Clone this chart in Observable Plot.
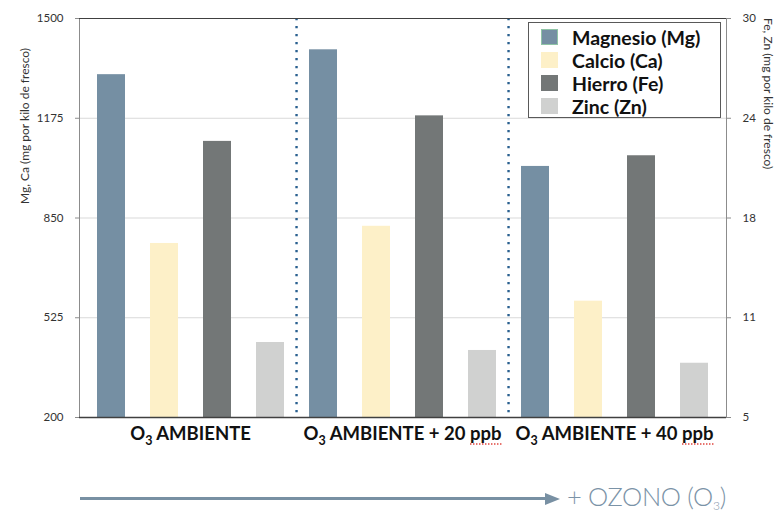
<!DOCTYPE html>
<html>
<head>
<meta charset="utf-8">
<script src="https://cdn.jsdelivr.net/npm/d3@7"></script>
<script src="https://cdn.jsdelivr.net/npm/@observablehq/plot@0.6"></script>
<style>
  body { margin: 0; background: #fff; font-family: Lato, "Open Sans", sans-serif; }
  #wrap { position: relative; width: 778px; height: 514px; overflow: hidden; }
  #chart svg { display: block; }
  .legend { position: absolute; left: 528px; top: 22px; width: 193px; height: 96px;
            border: 1px solid #595959; box-sizing: border-box; background: #fff; }
  .legend .row { position: absolute; left: 12px; height: 20px; display: flex; align-items: center;
                 font-weight: 700; font-size: 19.5px; color: #111; white-space: nowrap; }
  .legend .sw { width: 17px; height: 16px; margin-right: 14px; box-sizing: border-box; }
  .ytitle-right { position: absolute; left: 761px; top: 18px; writing-mode: vertical-rl;
                  font-size: 12px; color: #333; white-space: nowrap; line-height: 14px; }
  .foot { position: absolute; left: 0; top: 470px; width: 778px; height: 44px; }
  .foot .shaft { position: absolute; left: 80px; top: 27px; width: 468px; height: 3px; background: #7890a3; }
  .foot .head { position: absolute; left: 545px; top: 22.5px; width: 0; height: 0;
                border-left: 15px solid #7890a3; border-top: 6px solid transparent; border-bottom: 6px solid transparent; }
  .foot .txt { position: absolute; left: 567px; top: 11px; font-size: 25.5px; font-weight: 300;
               color: #7b93a7; white-space: nowrap; letter-spacing: -0.3px; }
  .foot .txt sub { font-size: 12px; vertical-align: -4px; }
</style>
</head>
<body>
<div id="wrap">
  <div id="chart"></div>
  <div class="ytitle-right">Fe, Zn (mg por kilo de fresco)</div>
  <div class="legend" id="legend"></div>
  <div class="foot">
    <div class="shaft"></div>
    <div class="head"></div>
    <div class="txt">+ OZONO (O<sub>3</sub>)</div>
  </div>
</div>
<script>
// Treatments (ozone exposure) and the four minerals measured
const groups = ["O₃ AMBIENTE", "O₃ AMBIENTE + 20 ppb", "O₃ AMBIENTE + 40 ppb"];
const elements = ["Magnesio (Mg)", "Calcio (Ca)", "Hierro (Fe)", "Zinc (Zn)"];
const colors = ["#758fa3", "#fdf0c8", "#737777", "#d0d1d0"];

// mg per kilo fresh weight — Mg and Ca on the left axis, Fe and Zn on the right axis
const magnesio = [1317, 1398, 1018];
const calcio = [767, 823, 579];
const hierro = [22.3, 23.9, 21.4];
const zinc = [9.7, 9.2, 8.4];

const leftTicks = [200, 525, 850, 1175, 1500];
const rightTicks = [5, 11.25, 17.5, 23.75, 30];

// Map right-axis values onto the shared (left) y scale
const [l0, l1] = [leftTicks[0], leftTicks[leftTicks.length - 1]];
const [r0, r1] = [rightTicks[0], rightTicks[rightTicks.length - 1]];
const toLeft = v => l0 + (v - r0) * (l1 - l0) / (r1 - r0);
const fromLeft = v => r0 + (v - l0) * (r1 - r0) / (l1 - l0);

const series = [magnesio, calcio, hierro.map(toLeft), zinc.map(toLeft)];
const rows = [];
groups.forEach((g, gi) => {
  elements.forEach((e, ei) => {
    rows.push({ key: g + "|" + e, group: g, element: e, value: series[ei][gi] });
  });
});
const keys = rows.map(d => d.key);
const keyOf = (g, e) => g + "|" + e;

const W = 778, H = 470;
const marginLeft = 79, marginRight = 52, marginTop = 18, marginBottom = 53;
const step = (W - marginLeft - marginRight) / keys.length;

const plot = Plot.plot({
  width: W,
  height: H,
  marginLeft, marginRight, marginTop, marginBottom,
  style: { fontFamily: "Lato, 'Open Sans', sans-serif", background: "#fff", color: "#404040" },
  x: { type: "band", domain: keys, paddingInner: 0.47, paddingOuter: 0.235, axis: null },
  y: { domain: [l0, l1], axis: null },
  color: { domain: elements, range: colors },
  marks: [
    Plot.ruleY(leftTicks.slice(1, -1), { stroke: "#d9d9d9", strokeWidth: 1.2 }),
    Plot.barY(rows, { x: "key", y1: l0, y2: "value", fill: "element" }),
    // dotted separators between treatments
    Plot.ruleX(groups.slice(1).map(g => keyOf(g, elements[0])), {
      dx: -step / 2, stroke: "#2a6090", strokeWidth: 2.4, strokeDasharray: "2.2 5.8", strokeLinecap: "butt"
    }),
    Plot.frame({ stroke: "#8c8c8c" }),
    Plot.ruleY([l1], { stroke: "#404040", strokeWidth: 1 }),
    Plot.ruleY([l0], { stroke: "#404040", strokeWidth: 1.5 }),
    Plot.axisY(leftTicks, {
      anchor: "left", tickSize: 4, tickPadding: 12, fontSize: 11.5, label: null, stroke: "#8c8c8c", fill: "#333",
      tickFormat: d => String(d)
    }),
    Plot.axisY(rightTicks.map(toLeft), {
      anchor: "right", tickSize: 4, tickPadding: 12, fontSize: 11.5, label: null, stroke: "#8c8c8c", fill: "#333",
      tickFormat: d => String(Math.round(fromLeft(d)))
    }),
    Plot.text(["Mg, Ca (mg por kilo de fresco)"], {
      text: d => d, frameAnchor: "left", rotate: -90, dx: -54, dy: -14, fontSize: 12, fill: "#333"
    }),
    // treatment labels under each group of four bars
    Plot.text(groups, {
      x: g => keyOf(g, elements[2]), text: d => d, dx: -step / 2,
      frameAnchor: "bottom", dy: 22, fontSize: 18.5, fontWeight: 700, fill: "#111",
      className: "treatment"
    })
  ]
});
document.getElementById("chart").appendChild(plot);

// Render the subscript in "O₃" as a lowered digit, and mark "ppb" with a dotted red underline
const svgNS = "http://www.w3.org/2000/svg";
plot.querySelectorAll("g.treatment text").forEach(t => {
  const label = t.textContent;
  const parts = label.split("₃");
  if (parts.length === 2) {
    t.textContent = "";
    const a = document.createElementNS(svgNS, "tspan");
    a.textContent = parts[0];
    const sub = document.createElementNS(svgNS, "tspan");
    sub.textContent = "3";
    sub.setAttribute("font-size", "12.5");
    sub.setAttribute("dy", "5");
    const b = document.createElementNS(svgNS, "tspan");
    b.textContent = parts[1];
    b.setAttribute("dy", "-5");
    t.append(a, sub, b);
  }
  const full = t.textContent;
  const i = full.indexOf("ppb");
  if (i >= 0) {
    const first = t.getExtentOfChar(i);
    const last = t.getExtentOfChar(i + 2);
    const y = first.y + first.height + 0.5;
    const line = document.createElementNS(svgNS, "line");
    line.setAttribute("x1", first.x);
    line.setAttribute("x2", last.x + last.width);
    line.setAttribute("y1", y);
    line.setAttribute("y2", y);
    const tr = t.getAttribute("transform");
    if (tr) line.setAttribute("transform", tr);
    line.setAttribute("stroke", "#e0463f");
    line.setAttribute("stroke-width", "1.5");
    line.setAttribute("stroke-dasharray", "1.5 1.5");
    t.parentNode.appendChild(line);
  }
});

// Legend
const legend = document.getElementById("legend");
const rowTops = [4, 27, 50, 73];
elements.forEach((e, i) => {
  const row = document.createElement("div");
  row.className = "row";
  row.style.top = rowTops[i] + "px";
  const sw = document.createElement("span");
  sw.className = "sw";
  sw.style.background = colors[i];
  if (i === 0) sw.style.border = "1px solid #8fc4a6";
  const label = document.createElement("span");
  label.textContent = e;
  row.appendChild(sw);
  row.appendChild(label);
  legend.appendChild(row);
});
</script>
</body>
</html>
